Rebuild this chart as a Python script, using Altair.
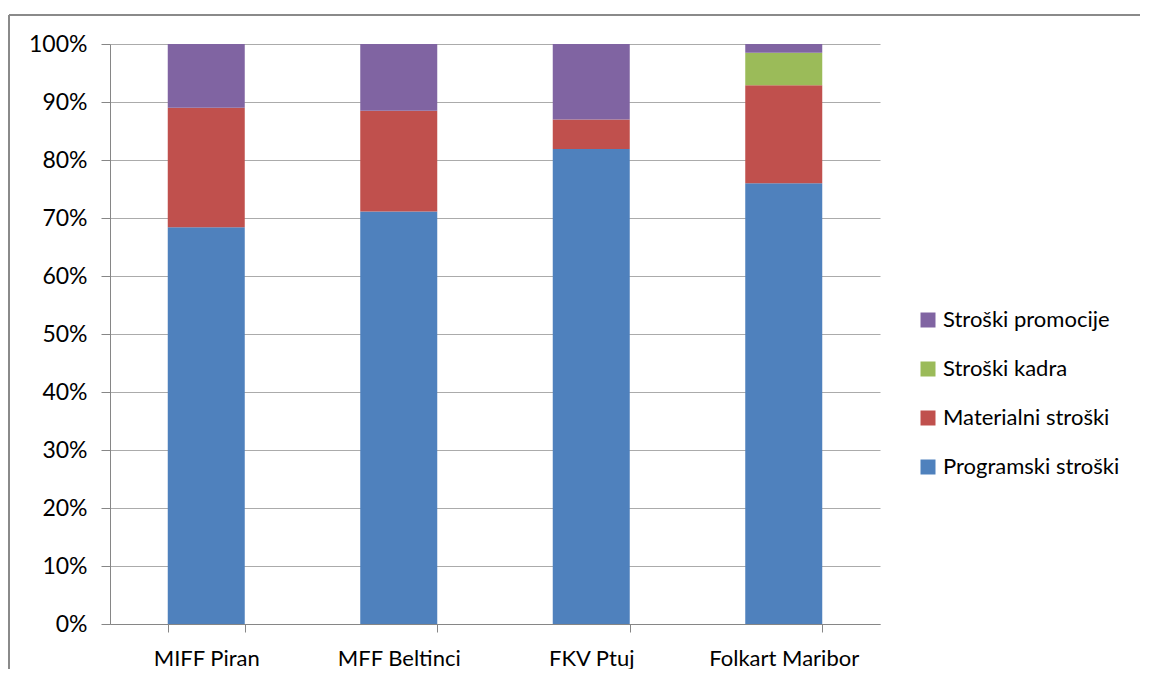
import altair as alt
import pandas as pd

festivals = ["MIFF Piran", "MFF Beltinci", "FKV Ptuj", "Folkart Maribor"]
series = ["Programski stroški", "Materialni stroški", "Stroški kadra", "Stroški promocije"]
programski = [68.4, 71.1, 81.9, 76.0]
materialni = [20.6, 17.4, 5.1, 16.9]
kadra = [0.0, 0.0, 0.0, 5.6]
promocije = [11.0, 11.5, 13.0, 1.5]
colors = ["#4F81BD", "#C0504D", "#9BBB59", "#8064A2"]

rows = []
for i, f in enumerate(festivals):
    for k, (s, vals) in enumerate(zip(series, [programski, materialni, kadra, promocije])):
        rows.append({"festival": f, "series": s, "value": vals[i], "ord": k})
df = pd.DataFrame(rows)

FONT = "Lato"

bars = alt.Chart(df).mark_bar().encode(
    x=alt.X("festival:N", sort=festivals, title=None,
            scale=alt.Scale(paddingInner=0.6, paddingOuter=0.3),
            axis=alt.Axis(labelAngle=0, tickBand="extent", tickSize=8, tickColor="#868686",
                          domainColor="#868686", labelPadding=16, labelFontSize=22,
                          labelFont=FONT, labelColor="#000000", grid=False)),
    y=alt.Y("value:Q", stack="normalize", title=None,
            scale=alt.Scale(domain=[0, 1]),
            axis=alt.Axis(format=".0%", values=[i / 10 for i in range(11)], tickSize=9,
                          tickColor="#868686", domainColor="#868686", gridColor="#ababab",
                          labelPadding=14, labelFontSize=23, labelFont=FONT,
                          labelColor="#000000")),
    color=alt.Color("series:N", title=None,
                    scale=alt.Scale(domain=series[::-1], range=colors[::-1]),
                    legend=alt.Legend(orient="none", legendX=807, legendY=265,
                                      symbolType="square", symbolSize=225,
                                      symbolStrokeWidth=0, labelFontSize=22,
                                      labelFont=FONT, labelColor="#000000",
                                      labelLimit=400,
                                      rowPadding=27, labelOffset=4)),
    order=alt.Order("ord:Q", sort="ascending"),
)

edge = pd.DataFrame({"a": [0]})
frame_top = alt.Chart(edge).mark_rule(stroke="#8a8a8a", strokeWidth=2).encode(
    x=alt.value(-101), x2=alt.value(1100), y=alt.value(-29)
)
frame_left = alt.Chart(edge).mark_rule(stroke="#8a8a8a", strokeWidth=2).encode(
    x=alt.value(-101), y=alt.value(-29), y2=alt.value(700)
)

chart = alt.layer(frame_top, frame_left, bars).properties(
    width=770, height=580,
    autosize=alt.AutoSizeParams(type="none"),
    padding={"left": 102, "top": 36, "right": 260, "bottom": 45},
).configure_view(stroke=None)

chart.save("out.html", embed_options={"renderer": "svg", "actions": False})
